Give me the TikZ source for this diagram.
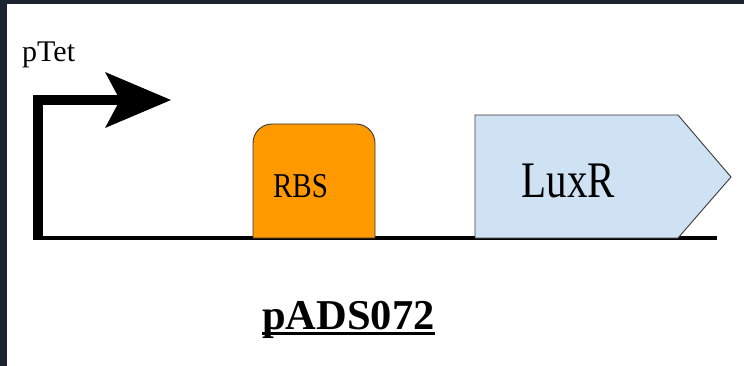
\documentclass[tikz,border=0pt]{standalone}
\usepackage{fontspec}
\setmainfont{Liberation Serif}
\definecolor{frame}{HTML}{1B2230}
\definecolor{rbsorange}{HTML}{FF9900}
\definecolor{luxblue}{HTML}{CFE2F3}
\definecolor{edge}{HTML}{3A3A3A}
\tikzset{
  lbl/.style={inner sep=0pt, text=black},
  backbone/.style={line width=4pt, black},
  partedge/.style={draw=edge, line width=0.9pt},
}
\begin{document}
\begin{tikzpicture}[x=1pt,y=-1pt]
\useasboundingbox (0,0) rectangle (744,366);
\fill[frame] (0,0) rectangle (744,366);
\fill[white] (7,4) rectangle (744,366);
% backbone
\coordinate (bbL) at (33,238);
\coordinate (bbR) at (717,238);
\draw[backbone] (bbL) -- (bbR);
% promoter
\coordinate (pbase) at (37.5,240);
\coordinate (parm) at (122,100);
\draw[line width=10pt, line cap=butt, line join=miter] (pbase) |- (parm);
\fill[black] (105,72) -- (171,100) -- (105,128) -- (120,100) -- cycle;
\node[lbl, anchor=base west, font=\fontsize{30}{36}\selectfont] (ptet) at (22,62) {pTet};
% RBS
\path[partedge, fill=rbsorange] (253,238) -- (253,143) .. controls (253,132.5) and (261.5,124) .. (272,124) -- (356,124) .. controls (366.5,124) and (375,132.5) .. (375,143) -- (375,238) -- cycle;
\node[lbl, anchor=base, font=\fontsize{29}{35}\selectfont] (rbstext) at (300.5,198) {\scalebox{1}[1.2]{RBS}};
% LuxR CDS
\path[partedge, fill=luxblue] (475,238) -- (475,115) -- (678,115) -- (731,177) -- (678,238) -- cycle;
\node[lbl, anchor=base, font=\fontsize{41}{49}\selectfont] (luxr) at (568.5,197) {\scalebox{1}[1.25]{LuxR}};
% plasmid name
\node[lbl, anchor=base, font=\bfseries\fontsize{42.5}{50}\selectfont] (pads) at (348.5,329) {pADS072};
\draw[line width=3pt] ([yshift=-4.5pt]pads.base west) -- ([yshift=-4.5pt]pads.base east);
\end{tikzpicture}
\end{document}
